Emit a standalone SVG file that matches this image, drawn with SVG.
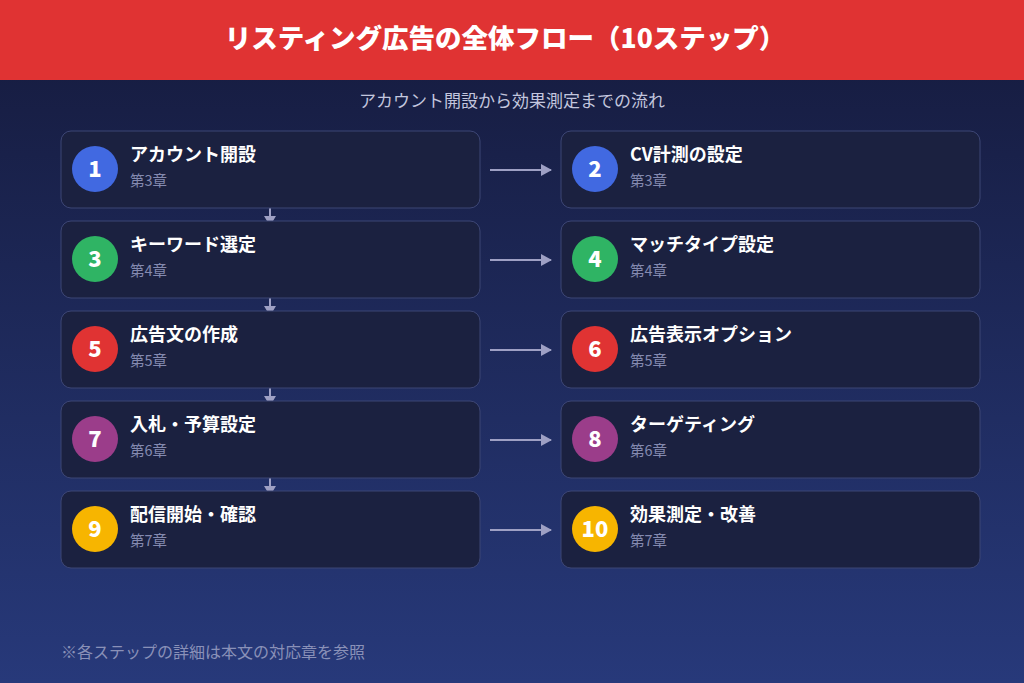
<svg xmlns="http://www.w3.org/2000/svg" width="1024" height="683" viewBox="0 0 1024 683">
<defs>
<linearGradient id="bg" x1="0" y1="0" x2="0" y2="1">
<stop offset="0" stop-color="#151a3c"/>
<stop offset="1" stop-color="#27397a"/>
</linearGradient>
<marker id="ah" markerWidth="11" markerHeight="12" refX="10" refY="6" orient="auto" markerUnits="userSpaceOnUse">
<path d="M0,0 L11,6 L0,12 Z" fill="#9ea0c4"/>
</marker>
</defs>
<style>
text{font-family:"Noto Sans CJK JP","Noto Sans",sans-serif}
.box{fill:#1b2140;stroke:#3d4675;stroke-width:1}
.num{font-family:"Noto Sans CJK JP","Noto Sans",sans-serif;font-size:22px;font-weight:900;fill:#fff;text-anchor:middle}
.t{font-size:18px;font-weight:700;fill:#fff}
.c{font-size:14.5px;fill:#848ab0}
.hl{stroke:#9ea0c4;stroke-width:2;fill:none}
.dh{fill:#9ea0c4}
</style>
<rect width="1024" height="683" fill="url(#bg)"/>
<rect width="1024" height="80" fill="#e03333"/>
<text x="505" y="48" font-size="26.5" font-weight="900" fill="#fff" text-anchor="middle">リスティング広告の全体フロー（10ステップ）</text>
<text x="512" y="107" font-size="17" fill="#c3c6de" text-anchor="middle">アカウント開設から効果測定までの流れ</text>
<g id="connectors">
<line class="hl" x1="490" y1="170" x2="551" y2="170" marker-end="url(#ah)"/>
<line class="hl" x1="490" y1="260" x2="551" y2="260" marker-end="url(#ah)"/>
<line class="hl" x1="490" y1="350" x2="551" y2="350" marker-end="url(#ah)"/>
<line class="hl" x1="490" y1="440" x2="551" y2="440" marker-end="url(#ah)"/>
<line class="hl" x1="490" y1="530" x2="551" y2="530" marker-end="url(#ah)"/>
<line class="hl" x1="270" y1="208" x2="270" y2="217"/><path class="dh" d="M264,216 L276,216 L270,226 Z"/>
<line class="hl" x1="270" y1="298" x2="270" y2="307"/><path class="dh" d="M264,306 L276,306 L270,316 Z"/>
<line class="hl" x1="270" y1="388" x2="270" y2="397"/><path class="dh" d="M264,396 L276,396 L270,406 Z"/>
<line class="hl" x1="270" y1="478" x2="270" y2="487"/><path class="dh" d="M264,486 L276,486 L270,496 Z"/>
</g>
<g id="step1"><rect class="box" x="61" y="131" width="419" height="77" rx="10"/><circle cx="95" cy="169" r="23" fill="#4169e1"/><text class="num" x="95" y="177">1</text><text class="t" x="130" y="161">アカウント開設</text><text class="c" x="130" y="186">第3章</text></g>
<g id="step2"><rect class="box" x="561" y="131" width="419" height="77" rx="10"/><circle cx="595" cy="169" r="23" fill="#4169e1"/><text class="num" x="595" y="177">2</text><text class="t" x="630" y="161">CV計測の設定</text><text class="c" x="630" y="186">第3章</text></g>
<g id="step3"><rect class="box" x="61" y="221" width="419" height="77" rx="10"/><circle cx="95" cy="259" r="23" fill="#2fb464"/><text class="num" x="95" y="267">3</text><text class="t" x="130" y="251">キーワード選定</text><text class="c" x="130" y="276">第4章</text></g>
<g id="step4"><rect class="box" x="561" y="221" width="419" height="77" rx="10"/><circle cx="595" cy="259" r="23" fill="#2fb464"/><text class="num" x="595" y="267">4</text><text class="t" x="630" y="251">マッチタイプ設定</text><text class="c" x="630" y="276">第4章</text></g>
<g id="step5"><rect class="box" x="61" y="311" width="419" height="77" rx="10"/><circle cx="95" cy="349" r="23" fill="#e03333"/><text class="num" x="95" y="357">5</text><text class="t" x="130" y="341">広告文の作成</text><text class="c" x="130" y="366">第5章</text></g>
<g id="step6"><rect class="box" x="561" y="311" width="419" height="77" rx="10"/><circle cx="595" cy="349" r="23" fill="#e03333"/><text class="num" x="595" y="357">6</text><text class="t" x="630" y="341">広告表示オプション</text><text class="c" x="630" y="366">第5章</text></g>
<g id="step7"><rect class="box" x="61" y="401" width="419" height="77" rx="10"/><circle cx="95" cy="439" r="23" fill="#9b3d8a"/><text class="num" x="95" y="447">7</text><text class="t" x="130" y="431">入札・予算設定</text><text class="c" x="130" y="456">第6章</text></g>
<g id="step8"><rect class="box" x="561" y="401" width="419" height="77" rx="10"/><circle cx="595" cy="439" r="23" fill="#9b3d8a"/><text class="num" x="595" y="447">8</text><text class="t" x="630" y="431">ターゲティング</text><text class="c" x="630" y="456">第6章</text></g>
<g id="step9"><rect class="box" x="61" y="491" width="419" height="77" rx="10"/><circle cx="95" cy="529" r="23" fill="#f7b500"/><text class="num" x="95" y="537">9</text><text class="t" x="130" y="521">配信開始・確認</text><text class="c" x="130" y="546">第7章</text></g>
<g id="step10"><rect class="box" x="561" y="491" width="419" height="77" rx="10"/><circle cx="595" cy="529" r="23" fill="#f7b500"/><text class="num" x="595" y="537">10</text><text class="t" x="630" y="521">効果測定・改善</text><text class="c" x="630" y="546">第7章</text></g>
<text x="61" y="658" font-size="16" fill="#8a91b8">※各ステップの詳細は本文の対応章を参照</text>
</svg>
